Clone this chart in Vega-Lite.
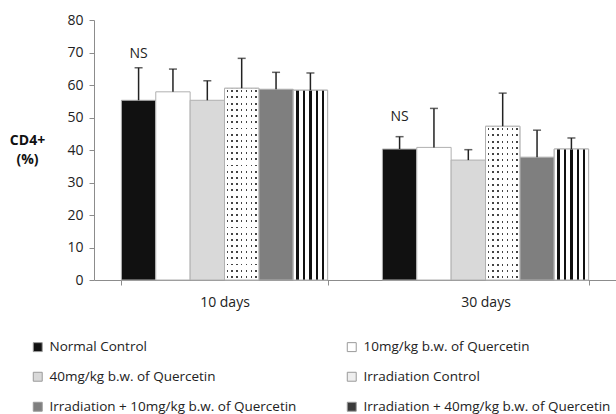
{
  "$schema": "https://vega.github.io/schema/vega-lite/v6.json",
  "width": 522,
  "height": 260,
  "autosize": {"type": "none"},
  "padding": {"left": 94, "top": 20, "right": 0, "bottom": 134},
  "background": "#ffffff",
  "config": {
    "font": "Open Sans",
    "view": {"stroke": null},
    "axis": {"labelFont": "Open Sans", "titleFont": "Open Sans"},
    "axisY": {"grid": false, "labelOverlap": false, "domainColor": "#8c8c8c", "tickColor": "#8c8c8c", "tickSize": 5, "labelFontSize": 14, "labelColor": "#222222", "labelPadding": 6},
    "legend": {"labelFont": "Open Sans"}
  },
  "data": {
    "values": [
      {"day": "10 days", "series": "Normal Control", "value": 55.3, "upper": 65.3, "ns": "NS", "nsY": 69.5},
      {"day": "10 days", "series": "10mg/kg b.w. of Quercetin", "value": 57.9, "upper": 64.9},
      {"day": "10 days", "series": "40mg/kg b.w. of Quercetin", "value": 55.3, "upper": 61.3},
      {"day": "10 days", "series": "Irradiation Control", "value": 59.0, "upper": 68.2},
      {"day": "10 days", "series": "Irradiation + 10mg/kg b.w. of Quercetin", "value": 58.7, "upper": 63.9},
      {"day": "10 days", "series": "Irradiation + 40mg/kg b.w. of Quercetin", "value": 58.4, "upper": 63.7},
      {"day": "30 days", "series": "Normal Control", "value": 40.3, "upper": 44.1, "ns": "NS", "nsY": 50.2},
      {"day": "30 days", "series": "10mg/kg b.w. of Quercetin", "value": 40.8, "upper": 52.8},
      {"day": "30 days", "series": "40mg/kg b.w. of Quercetin", "value": 36.9, "upper": 40.1},
      {"day": "30 days", "series": "Irradiation Control", "value": 47.3, "upper": 57.5},
      {"day": "30 days", "series": "Irradiation + 10mg/kg b.w. of Quercetin", "value": 37.8, "upper": 46.1},
      {"day": "30 days", "series": "Irradiation + 40mg/kg b.w. of Quercetin", "value": 40.3, "upper": 43.7}
    ]
  },
  "encoding": {
    "x": {
      "field": "day", "type": "nominal",
      "scale": {"domain": ["10 days", "30 days"], "paddingInner": 0.21, "paddingOuter": 0.105},
      "axis": {
        "title": null, "labelAngle": 0, "tickBand": "extent",
        "domainColor": "#8c8c8c", "tickColor": "#8c8c8c", "tickSize": 5,
        "labelFontSize": 14, "labelColor": "#222222", "labelPadding": 10
      }
    },
    "xOffset": {
      "field": "series", "type": "nominal",
      "scale": {
        "domain": ["Normal Control", "10mg/kg b.w. of Quercetin", "40mg/kg b.w. of Quercetin", "Irradiation Control", "Irradiation + 10mg/kg b.w. of Quercetin", "Irradiation + 40mg/kg b.w. of Quercetin"],
        "paddingInner": 0, "paddingOuter": 0
      }
    }
  },
  "layer": [
    {
      "mark": {"type": "bar", "stroke": "#b0b0b0", "strokeWidth": 1},
      "encoding": {
        "y": {
          "field": "value", "type": "quantitative",
          "scale": {"domain": [0, 80], "nice": false},
          "axis": {
            "values": [0, 10, 20, 30, 40, 50, 60, 70, 80],
            "title": ["CD4+", "(%)"], "titleAngle": 0, "titleFontWeight": "bold", "titleFontSize": 14,
            "titleColor": "#111111", "titleX": -67, "titleY": 113, "titleAlign": "center", "titleBaseline": "top", "titleLineHeight": 19
          }
        },
        "fill": {
          "field": "series", "type": "nominal",
          "scale": {
            "domain": ["Normal Control", "10mg/kg b.w. of Quercetin", "40mg/kg b.w. of Quercetin", "Irradiation Control", "Irradiation + 10mg/kg b.w. of Quercetin", "Irradiation + 40mg/kg b.w. of Quercetin"],
            "range": ["#111111", "#ffffff", "#d9d9d9", "#eeeeee", "#7f7f7f", "#3a3a3a"]
          },
          "legend": {
            "title": null, "orient": "none", "legendX": -63, "legendY": 320,
            "direction": "horizontal", "columns": 2, "columnPadding": 48, "rowPadding": 15,
            "symbolType": "square", "symbolSize": 80, "symbolStrokeColor": "#9a9a9a", "symbolStrokeWidth": 1,
            "labelFontSize": 13.5, "labelColor": "#222222", "labelLimit": 400, "labelOffset": 5
          }
        }
      }
    },
    {
      "transform": [{"filter": "datum.series === 'Irradiation + 40mg/kg b.w. of Quercetin'"}],
      "mark": {"type": "bar", "stroke": "#b0b0b0", "strokeWidth": 1},
      "encoding": {
        "y": {"field": "value", "type": "quantitative", "axis": {"values": [0, 10, 20, 30, 40, 50, 60, 70, 80]}},
        "fill": {"value": {"gradient": "linear", "x1": 0, "y1": 0, "x2": 1, "y2": 0, "stops": [
          {"offset": 0, "color": "#ffffff"},
          {"offset": 0.086, "color": "#ffffff"}, {"offset": 0.086, "color": "#111111"}, {"offset": 0.162, "color": "#111111"}, {"offset": 0.162, "color": "#ffffff"},
          {"offset": 0.276, "color": "#ffffff"}, {"offset": 0.276, "color": "#111111"}, {"offset": 0.352, "color": "#111111"}, {"offset": 0.352, "color": "#ffffff"},
          {"offset": 0.466, "color": "#ffffff"}, {"offset": 0.466, "color": "#111111"}, {"offset": 0.534, "color": "#111111"}, {"offset": 0.534, "color": "#ffffff"},
          {"offset": 0.657, "color": "#ffffff"}, {"offset": 0.657, "color": "#111111"}, {"offset": 0.724, "color": "#111111"}, {"offset": 0.724, "color": "#ffffff"},
          {"offset": 0.829, "color": "#ffffff"}, {"offset": 0.829, "color": "#111111"}, {"offset": 0.895, "color": "#111111"}, {"offset": 0.895, "color": "#ffffff"},
          {"offset": 1, "color": "#ffffff"}
        ]}}
      }
    },
    {
      "transform": [{"filter": "datum.series === 'Irradiation Control'"}],
      "mark": {"type": "bar", "strokeWidth": 0},
      "encoding": {
        "y": {"field": "value", "type": "quantitative", "axis": {"values": [0, 10, 20, 30, 40, 50, 60, 70, 80]}},
        "fill": {"value": {"gradient": "linear", "x1": 0, "y1": 0, "x2": 1, "y2": 0, "stops": [
          {"offset": 0, "color": "#ffffff"},
          {"offset": 0.06, "color": "#ffffff"}, {"offset": 0.06, "color": "#444444"}, {"offset": 0.10, "color": "#444444"}, {"offset": 0.10, "color": "#ffffff"},
          {"offset": 0.20, "color": "#ffffff"}, {"offset": 0.20, "color": "#444444"}, {"offset": 0.24, "color": "#444444"}, {"offset": 0.24, "color": "#ffffff"},
          {"offset": 0.34, "color": "#ffffff"}, {"offset": 0.34, "color": "#444444"}, {"offset": 0.38, "color": "#444444"}, {"offset": 0.38, "color": "#ffffff"},
          {"offset": 0.48, "color": "#ffffff"}, {"offset": 0.48, "color": "#444444"}, {"offset": 0.52, "color": "#444444"}, {"offset": 0.52, "color": "#ffffff"},
          {"offset": 0.62, "color": "#ffffff"}, {"offset": 0.62, "color": "#444444"}, {"offset": 0.66, "color": "#444444"}, {"offset": 0.66, "color": "#ffffff"},
          {"offset": 0.76, "color": "#ffffff"}, {"offset": 0.76, "color": "#444444"}, {"offset": 0.80, "color": "#444444"}, {"offset": 0.80, "color": "#ffffff"},
          {"offset": 0.90, "color": "#ffffff"}, {"offset": 0.90, "color": "#444444"}, {"offset": 0.94, "color": "#444444"}, {"offset": 0.94, "color": "#ffffff"},
          {"offset": 1, "color": "#ffffff"}
        ]}}
      }
    },
    {
      "transform": [{"filter": "datum.series === 'Irradiation Control'"}],
      "mark": {"type": "bar", "stroke": "#b0b0b0", "strokeWidth": 1},
      "encoding": {
        "y": {"field": "value", "type": "quantitative", "axis": {"values": [0, 10, 20, 30, 40, 50, 60, 70, 80]}},
        "fill": {
          "condition": {"test": "datum.day === '10 days'", "value": {"gradient": "linear", "x1": 0, "y1": 0, "x2": 0, "y2": 1, "stops": [
            {"offset": 0, "color": "#ffffff"},
            {"offset": 0.011, "color": "#ffffff"}, {"offset": 0.011, "color": "transparent"}, {"offset": 0.021, "color": "transparent"}, {"offset": 0.021, "color": "#ffffff"},
            {"offset": 0.043, "color": "#ffffff"}, {"offset": 0.043, "color": "transparent"}, {"offset": 0.053, "color": "transparent"}, {"offset": 0.053, "color": "#ffffff"},
            {"offset": 0.076, "color": "#ffffff"}, {"offset": 0.076, "color": "transparent"}, {"offset": 0.086, "color": "transparent"}, {"offset": 0.086, "color": "#ffffff"},
            {"offset": 0.108, "color": "#ffffff"}, {"offset": 0.108, "color": "transparent"}, {"offset": 0.118, "color": "transparent"}, {"offset": 0.118, "color": "#ffffff"},
            {"offset": 0.140, "color": "#ffffff"}, {"offset": 0.140, "color": "transparent"}, {"offset": 0.150, "color": "transparent"}, {"offset": 0.150, "color": "#ffffff"},
            {"offset": 0.172, "color": "#ffffff"}, {"offset": 0.172, "color": "transparent"}, {"offset": 0.182, "color": "transparent"}, {"offset": 0.182, "color": "#ffffff"},
            {"offset": 0.205, "color": "#ffffff"}, {"offset": 0.205, "color": "transparent"}, {"offset": 0.215, "color": "transparent"}, {"offset": 0.215, "color": "#ffffff"},
            {"offset": 0.237, "color": "#ffffff"}, {"offset": 0.237, "color": "transparent"}, {"offset": 0.247, "color": "transparent"}, {"offset": 0.247, "color": "#ffffff"},
            {"offset": 0.269, "color": "#ffffff"}, {"offset": 0.269, "color": "transparent"}, {"offset": 0.279, "color": "transparent"}, {"offset": 0.279, "color": "#ffffff"},
            {"offset": 0.301, "color": "#ffffff"}, {"offset": 0.301, "color": "transparent"}, {"offset": 0.311, "color": "transparent"}, {"offset": 0.311, "color": "#ffffff"},
            {"offset": 0.334, "color": "#ffffff"}, {"offset": 0.334, "color": "transparent"}, {"offset": 0.344, "color": "transparent"}, {"offset": 0.344, "color": "#ffffff"},
            {"offset": 0.366, "color": "#ffffff"}, {"offset": 0.366, "color": "transparent"}, {"offset": 0.376, "color": "transparent"}, {"offset": 0.376, "color": "#ffffff"},
            {"offset": 0.398, "color": "#ffffff"}, {"offset": 0.398, "color": "transparent"}, {"offset": 0.408, "color": "transparent"}, {"offset": 0.408, "color": "#ffffff"},
            {"offset": 0.430, "color": "#ffffff"}, {"offset": 0.430, "color": "transparent"}, {"offset": 0.440, "color": "transparent"}, {"offset": 0.440, "color": "#ffffff"},
            {"offset": 0.463, "color": "#ffffff"}, {"offset": 0.463, "color": "transparent"}, {"offset": 0.473, "color": "transparent"}, {"offset": 0.473, "color": "#ffffff"},
            {"offset": 0.495, "color": "#ffffff"}, {"offset": 0.495, "color": "transparent"}, {"offset": 0.505, "color": "transparent"}, {"offset": 0.505, "color": "#ffffff"},
            {"offset": 0.527, "color": "#ffffff"}, {"offset": 0.527, "color": "transparent"}, {"offset": 0.537, "color": "transparent"}, {"offset": 0.537, "color": "#ffffff"},
            {"offset": 0.560, "color": "#ffffff"}, {"offset": 0.560, "color": "transparent"}, {"offset": 0.570, "color": "transparent"}, {"offset": 0.570, "color": "#ffffff"},
            {"offset": 0.592, "color": "#ffffff"}, {"offset": 0.592, "color": "transparent"}, {"offset": 0.602, "color": "transparent"}, {"offset": 0.602, "color": "#ffffff"},
            {"offset": 0.624, "color": "#ffffff"}, {"offset": 0.624, "color": "transparent"}, {"offset": 0.634, "color": "transparent"}, {"offset": 0.634, "color": "#ffffff"},
            {"offset": 0.656, "color": "#ffffff"}, {"offset": 0.656, "color": "transparent"}, {"offset": 0.666, "color": "transparent"}, {"offset": 0.666, "color": "#ffffff"},
            {"offset": 0.689, "color": "#ffffff"}, {"offset": 0.689, "color": "transparent"}, {"offset": 0.699, "color": "transparent"}, {"offset": 0.699, "color": "#ffffff"},
            {"offset": 0.721, "color": "#ffffff"}, {"offset": 0.721, "color": "transparent"}, {"offset": 0.731, "color": "transparent"}, {"offset": 0.731, "color": "#ffffff"},
            {"offset": 0.753, "color": "#ffffff"}, {"offset": 0.753, "color": "transparent"}, {"offset": 0.763, "color": "transparent"}, {"offset": 0.763, "color": "#ffffff"},
            {"offset": 0.785, "color": "#ffffff"}, {"offset": 0.785, "color": "transparent"}, {"offset": 0.795, "color": "transparent"}, {"offset": 0.795, "color": "#ffffff"},
            {"offset": 0.818, "color": "#ffffff"}, {"offset": 0.818, "color": "transparent"}, {"offset": 0.828, "color": "transparent"}, {"offset": 0.828, "color": "#ffffff"},
            {"offset": 0.850, "color": "#ffffff"}, {"offset": 0.850, "color": "transparent"}, {"offset": 0.860, "color": "transparent"}, {"offset": 0.860, "color": "#ffffff"},
            {"offset": 0.882, "color": "#ffffff"}, {"offset": 0.882, "color": "transparent"}, {"offset": 0.892, "color": "transparent"}, {"offset": 0.892, "color": "#ffffff"},
            {"offset": 0.914, "color": "#ffffff"}, {"offset": 0.914, "color": "transparent"}, {"offset": 0.924, "color": "transparent"}, {"offset": 0.924, "color": "#ffffff"},
            {"offset": 0.947, "color": "#ffffff"}, {"offset": 0.947, "color": "transparent"}, {"offset": 0.957, "color": "transparent"}, {"offset": 0.957, "color": "#ffffff"},
            {"offset": 0.979, "color": "#ffffff"}, {"offset": 0.979, "color": "transparent"}, {"offset": 0.989, "color": "transparent"}, {"offset": 0.989, "color": "#ffffff"},
            {"offset": 1, "color": "#ffffff"}
          ]}},
          "value": {"gradient": "linear", "x1": 0, "y1": 0, "x2": 0, "y2": 1, "stops": [
            {"offset": 0, "color": "#ffffff"},
            {"offset": 0.0135, "color": "#ffffff"}, {"offset": 0.0135, "color": "transparent"}, {"offset": 0.0265, "color": "transparent"}, {"offset": 0.0265, "color": "#ffffff"},
            {"offset": 0.0535, "color": "#ffffff"}, {"offset": 0.0535, "color": "transparent"}, {"offset": 0.0665, "color": "transparent"}, {"offset": 0.0665, "color": "#ffffff"},
            {"offset": 0.0935, "color": "#ffffff"}, {"offset": 0.0935, "color": "transparent"}, {"offset": 0.1065, "color": "transparent"}, {"offset": 0.1065, "color": "#ffffff"},
            {"offset": 0.1335, "color": "#ffffff"}, {"offset": 0.1335, "color": "transparent"}, {"offset": 0.1465, "color": "transparent"}, {"offset": 0.1465, "color": "#ffffff"},
            {"offset": 0.1735, "color": "#ffffff"}, {"offset": 0.1735, "color": "transparent"}, {"offset": 0.1865, "color": "transparent"}, {"offset": 0.1865, "color": "#ffffff"},
            {"offset": 0.2135, "color": "#ffffff"}, {"offset": 0.2135, "color": "transparent"}, {"offset": 0.2265, "color": "transparent"}, {"offset": 0.2265, "color": "#ffffff"},
            {"offset": 0.2535, "color": "#ffffff"}, {"offset": 0.2535, "color": "transparent"}, {"offset": 0.2665, "color": "transparent"}, {"offset": 0.2665, "color": "#ffffff"},
            {"offset": 0.2935, "color": "#ffffff"}, {"offset": 0.2935, "color": "transparent"}, {"offset": 0.3065, "color": "transparent"}, {"offset": 0.3065, "color": "#ffffff"},
            {"offset": 0.3335, "color": "#ffffff"}, {"offset": 0.3335, "color": "transparent"}, {"offset": 0.3465, "color": "transparent"}, {"offset": 0.3465, "color": "#ffffff"},
            {"offset": 0.3735, "color": "#ffffff"}, {"offset": 0.3735, "color": "transparent"}, {"offset": 0.3865, "color": "transparent"}, {"offset": 0.3865, "color": "#ffffff"},
            {"offset": 0.4135, "color": "#ffffff"}, {"offset": 0.4135, "color": "transparent"}, {"offset": 0.4265, "color": "transparent"}, {"offset": 0.4265, "color": "#ffffff"},
            {"offset": 0.4535, "color": "#ffffff"}, {"offset": 0.4535, "color": "transparent"}, {"offset": 0.4665, "color": "transparent"}, {"offset": 0.4665, "color": "#ffffff"},
            {"offset": 0.4935, "color": "#ffffff"}, {"offset": 0.4935, "color": "transparent"}, {"offset": 0.5065, "color": "transparent"}, {"offset": 0.5065, "color": "#ffffff"},
            {"offset": 0.5335, "color": "#ffffff"}, {"offset": 0.5335, "color": "transparent"}, {"offset": 0.5465, "color": "transparent"}, {"offset": 0.5465, "color": "#ffffff"},
            {"offset": 0.5735, "color": "#ffffff"}, {"offset": 0.5735, "color": "transparent"}, {"offset": 0.5865, "color": "transparent"}, {"offset": 0.5865, "color": "#ffffff"},
            {"offset": 0.6135, "color": "#ffffff"}, {"offset": 0.6135, "color": "transparent"}, {"offset": 0.6265, "color": "transparent"}, {"offset": 0.6265, "color": "#ffffff"},
            {"offset": 0.6535, "color": "#ffffff"}, {"offset": 0.6535, "color": "transparent"}, {"offset": 0.6665, "color": "transparent"}, {"offset": 0.6665, "color": "#ffffff"},
            {"offset": 0.6935, "color": "#ffffff"}, {"offset": 0.6935, "color": "transparent"}, {"offset": 0.7065, "color": "transparent"}, {"offset": 0.7065, "color": "#ffffff"},
            {"offset": 0.7335, "color": "#ffffff"}, {"offset": 0.7335, "color": "transparent"}, {"offset": 0.7465, "color": "transparent"}, {"offset": 0.7465, "color": "#ffffff"},
            {"offset": 0.7735, "color": "#ffffff"}, {"offset": 0.7735, "color": "transparent"}, {"offset": 0.7865, "color": "transparent"}, {"offset": 0.7865, "color": "#ffffff"},
            {"offset": 0.8135, "color": "#ffffff"}, {"offset": 0.8135, "color": "transparent"}, {"offset": 0.8265, "color": "transparent"}, {"offset": 0.8265, "color": "#ffffff"},
            {"offset": 0.8535, "color": "#ffffff"}, {"offset": 0.8535, "color": "transparent"}, {"offset": 0.8665, "color": "transparent"}, {"offset": 0.8665, "color": "#ffffff"},
            {"offset": 0.8935, "color": "#ffffff"}, {"offset": 0.8935, "color": "transparent"}, {"offset": 0.9065, "color": "transparent"}, {"offset": 0.9065, "color": "#ffffff"},
            {"offset": 0.9335, "color": "#ffffff"}, {"offset": 0.9335, "color": "transparent"}, {"offset": 0.9465, "color": "transparent"}, {"offset": 0.9465, "color": "#ffffff"},
            {"offset": 0.9735, "color": "#ffffff"}, {"offset": 0.9735, "color": "transparent"}, {"offset": 0.9865, "color": "transparent"}, {"offset": 0.9865, "color": "#ffffff"},
            {"offset": 1, "color": "#ffffff"}
          ]}
        }
      }
    },
    {
      "mark": {"type": "rule", "color": "#222222", "strokeWidth": 1.5},
      "encoding": {
        "y": {"field": "value", "type": "quantitative", "axis": {"values": [0, 10, 20, 30, 40, 50, 60, 70, 80]}},
        "y2": {"field": "upper"}
      }
    },
    {
      "mark": {"type": "tick", "color": "#222222", "thickness": 1.5, "size": 8},
      "encoding": {
        "y": {"field": "upper", "type": "quantitative", "axis": {"values": [0, 10, 20, 30, 40, 50, 60, 70, 80]}}
      }
    },
    {
      "transform": [{"filter": "datum.ns"}],
      "mark": {"type": "text", "fontSize": 14, "color": "#222222", "baseline": "middle", "align": "center"},
      "encoding": {
        "y": {"field": "nsY", "type": "quantitative", "axis": {"values": [0, 10, 20, 30, 40, 50, 60, 70, 80]}},
        "text": {"field": "ns"}
      }
    }
  ]
}
